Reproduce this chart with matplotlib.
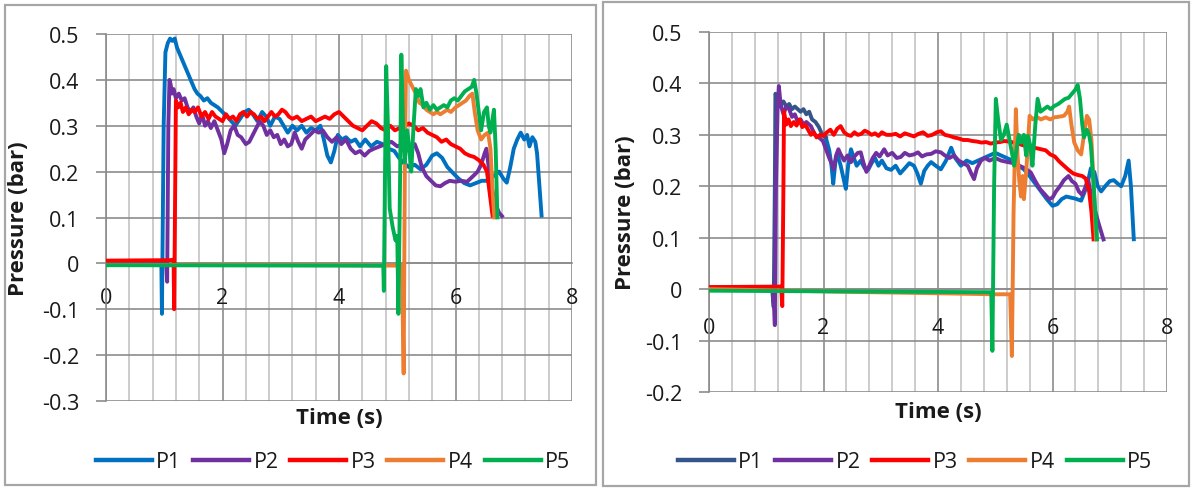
import numpy as np
import matplotlib
matplotlib.use("Agg")
import matplotlib.pyplot as plt
from matplotlib.lines import Line2D
from matplotlib.patches import Rectangle
from matplotlib.ticker import MultipleLocator

plt.rcParams['font.family'] = ['Open Sans', 'DejaVu Sans']

series_names = ["P1", "P2", "P3", "P4", "P5"]
series_colors = ["#0070C0", "#7030A0", "#FF0000", "#ED7D31", "#00B050"]
p1_dark_color = "#34558A"

# ---------------- left test ----------------
a_p1_t = [0, 0.9, 0.95, 0.96, 0.99, 1.02, 1.06, 1.1, 1.14, 1.18, 1.22, 1.27, 1.32, 1.37, 1.42, 1.47, 1.52,
          1.57, 1.62, 1.68, 1.74, 1.8, 1.86, 1.92, 2.0, 2.08, 2.15, 2.22, 2.3, 2.38, 2.45, 2.52, 2.6, 2.68,
          2.75, 2.82, 2.9, 2.98, 3.05, 3.12, 3.2, 3.28, 3.36, 3.44, 3.52, 3.6, 3.68, 3.74, 3.8, 3.86, 3.92,
          3.98, 4.05, 4.12, 4.2, 4.28, 4.36, 4.45, 4.55, 4.65, 4.75, 4.85, 4.95, 5.03, 5.1, 5.2, 5.3, 5.4,
          5.5, 5.6, 5.68, 5.77, 5.86, 5.95, 6.05, 6.15, 6.25, 6.35, 6.45, 6.55, 6.65, 6.75, 6.82, 6.88,
          6.94, 7.0, 7.06, 7.12, 7.18, 7.23, 7.27, 7.32, 7.37, 7.4, 7.48]
a_p1_v = [0.003, 0.004, 0.004, -0.11, 0.30, 0.46, 0.48, 0.49, 0.485, 0.49, 0.47, 0.455, 0.44, 0.425, 0.41,
          0.395, 0.38, 0.37, 0.365, 0.355, 0.36, 0.35, 0.345, 0.34, 0.33, 0.32, 0.31, 0.30, 0.315, 0.33,
          0.335, 0.325, 0.31, 0.33, 0.32, 0.30, 0.32, 0.315, 0.30, 0.285, 0.30, 0.29, 0.30, 0.285, 0.295,
          0.29, 0.30, 0.27, 0.235, 0.22, 0.245, 0.28, 0.27, 0.275, 0.265, 0.27, 0.255, 0.27, 0.255, 0.265,
          0.26, 0.25, 0.245, 0.23, 0.22, 0.21, 0.215, 0.205, 0.215, 0.235, 0.24, 0.23, 0.21, 0.198, 0.185,
          0.175, 0.17, 0.175, 0.18, 0.18, 0.19, 0.20, 0.185, 0.176, 0.21, 0.25, 0.27, 0.285, 0.27, 0.28,
          0.255, 0.275, 0.265, 0.24, 0.10]

a_p2_t = [0, 0.95, 1.03, 1.05, 1.07, 1.09, 1.11, 1.13, 1.16, 1.2, 1.25, 1.3, 1.35, 1.4, 1.45, 1.5, 1.55,
          1.6, 1.65, 1.7, 1.75, 1.8, 1.86, 1.92, 1.98, 2.03, 2.08, 2.14, 2.2, 2.26, 2.32, 2.4, 2.46, 2.52,
          2.58, 2.64, 2.7, 2.76, 2.82, 2.88, 2.94, 3.0, 3.06, 3.12, 3.18, 3.24, 3.3, 3.36, 3.42, 3.5, 3.58,
          3.65, 3.72, 3.8, 3.88, 3.96, 4.04, 4.12, 4.2, 4.28, 4.36, 4.44, 4.52, 4.6, 4.7, 4.8, 4.9, 5.0,
          5.1, 5.2, 5.3, 5.36, 5.42, 5.5, 5.58, 5.66, 5.74, 5.82, 5.9, 6.0, 6.1, 6.2, 6.3, 6.38, 6.44, 6.5,
          6.53, 6.6, 6.68, 6.75, 6.82]
a_p2_v = [0.003, 0.004, 0.005, -0.04, 0.30, 0.40, 0.39, 0.37, 0.38, 0.36, 0.37, 0.355, 0.36, 0.34, 0.33,
          0.34, 0.32, 0.305, 0.325, 0.30, 0.31, 0.295, 0.31, 0.29, 0.27, 0.24, 0.26, 0.29, 0.30, 0.28,
          0.275, 0.26, 0.265, 0.28, 0.295, 0.31, 0.30, 0.28, 0.29, 0.275, 0.28, 0.26, 0.27, 0.255, 0.26,
          0.285, 0.265, 0.25, 0.27, 0.28, 0.29, 0.285, 0.29, 0.275, 0.265, 0.275, 0.26, 0.27, 0.25, 0.24,
          0.245, 0.235, 0.245, 0.25, 0.255, 0.26, 0.265, 0.255, 0.26, 0.255, 0.26, 0.24, 0.21, 0.19, 0.18,
          0.17, 0.168, 0.175, 0.18, 0.178, 0.18, 0.178, 0.19, 0.20, 0.215, 0.24, 0.25, 0.18, 0.13, 0.11,
          0.10]

a_p3_t = [0, 1.1, 1.16, 1.17, 1.19, 1.2, 1.24, 1.28, 1.32, 1.37, 1.42, 1.47, 1.52, 1.58, 1.64, 1.7, 1.76,
          1.82, 1.88, 1.94, 2.0, 2.06, 2.12, 2.18, 2.24, 2.3, 2.36, 2.42, 2.48, 2.54, 2.6, 2.66, 2.72, 2.78,
          2.84, 2.9, 2.96, 3.02, 3.08, 3.14, 3.2, 3.28, 3.36, 3.44, 3.52, 3.6, 3.68, 3.76, 3.84, 3.92, 4.0,
          4.08, 4.16, 4.24, 4.32, 4.4, 4.48, 4.56, 4.64, 4.72, 4.8, 4.88, 4.96, 5.04, 5.12, 5.2, 5.28, 5.36,
          5.44, 5.52, 5.6, 5.68, 5.76, 5.84, 5.92, 6.0, 6.08, 6.16, 6.24, 6.32, 6.4, 6.48, 6.54, 6.6, 6.64]
a_p3_v = [0.006, 0.007, 0.008, -0.10, 0.20, 0.355, 0.34, 0.35, 0.33, 0.34, 0.325, 0.335, 0.33, 0.34, 0.32,
          0.33, 0.315, 0.33, 0.32, 0.315, 0.31, 0.325, 0.315, 0.32, 0.31, 0.325, 0.33, 0.32, 0.33, 0.325,
          0.315, 0.32, 0.31, 0.32, 0.33, 0.32, 0.325, 0.335, 0.33, 0.32, 0.315, 0.32, 0.31, 0.315, 0.32,
          0.31, 0.315, 0.32, 0.315, 0.325, 0.33, 0.32, 0.31, 0.30, 0.295, 0.29, 0.30, 0.31, 0.305, 0.295,
          0.29, 0.30, 0.29, 0.295, 0.30, 0.305, 0.30, 0.29, 0.295, 0.285, 0.28, 0.275, 0.265, 0.27, 0.26,
          0.255, 0.25, 0.24, 0.235, 0.232, 0.225, 0.215, 0.20, 0.14, 0.10]

a_p4_t = [0, 4.0, 5.08, 5.11, 5.13, 5.15, 5.2, 5.26, 5.32, 5.38, 5.44, 5.5, 5.56, 5.62, 5.68, 5.74, 5.8,
          5.86, 5.92, 6.0, 6.06, 6.12, 6.18, 6.24, 6.29, 6.33, 6.38, 6.44, 6.5, 6.56, 6.6, 6.64, 6.67]
a_p4_v = [-0.003, -0.004, -0.005, -0.24, 0.20, 0.42, 0.40, 0.385, 0.37, 0.35, 0.345, 0.335, 0.33, 0.325,
          0.33, 0.325, 0.33, 0.335, 0.33, 0.34, 0.345, 0.35, 0.355, 0.365, 0.37, 0.33, 0.29, 0.27, 0.28,
          0.285, 0.25, 0.15, 0.096]

a_p5_t = [0, 4.76, 4.77, 4.79, 4.81, 4.84, 4.87, 4.92, 4.97, 5.0, 5.02, 5.05, 5.07, 5.1, 5.13, 5.17, 5.2,
          5.24, 5.28, 5.32, 5.36, 5.4, 5.45, 5.5, 5.56, 5.62, 5.68, 5.74, 5.8, 5.86, 5.92, 5.98, 6.04, 6.1,
          6.16, 6.22, 6.28, 6.32, 6.36, 6.4, 6.44, 6.49, 6.54, 6.57, 6.6, 6.63, 6.66, 6.69, 6.72]
a_p5_v = [-0.004, -0.005, -0.06, 0.20, 0.43, 0.30, 0.12, 0.08, 0.05, 0.06, -0.11, 0.20, 0.455, 0.30, 0.22,
          0.29, 0.26, 0.20, 0.30, 0.38, 0.365, 0.38, 0.34, 0.35, 0.335, 0.345, 0.335, 0.34, 0.345, 0.34,
          0.355, 0.36, 0.355, 0.365, 0.375, 0.38, 0.385, 0.40, 0.37, 0.33, 0.29, 0.33, 0.34, 0.30, 0.285,
          0.31, 0.335, 0.25, 0.096]

# ---------------- right test ----------------
b_p1_t = [0, 1.1, 1.13, 1.15, 1.16, 1.2, 1.25, 1.3, 1.35, 1.4, 1.45, 1.5, 1.55, 1.6, 1.65, 1.7, 1.75, 1.8,
          1.86, 1.92, 1.98, 2.04, 2.1, 2.14, 2.17, 2.21, 2.25, 2.3, 2.35, 2.39, 2.43, 2.48, 2.53, 2.58,
          2.65, 2.72, 2.78, 2.84, 2.9, 2.96, 3.02, 3.1, 3.18, 3.26, 3.34, 3.42, 3.5, 3.58, 3.64, 3.7, 3.76,
          3.82, 3.88, 3.96, 4.05, 4.14, 4.23, 4.3, 4.4, 4.5, 4.6, 4.7, 4.8, 4.9, 5.0, 5.1, 5.2, 5.3, 5.4,
          5.5, 5.6, 5.7, 5.8, 5.9, 6.0, 6.08, 6.16, 6.24, 6.32, 6.4, 6.5, 6.6, 6.67, 6.73, 6.79, 6.85, 6.92,
          7.0, 7.07, 7.14, 7.2, 7.27, 7.33, 7.37, 7.42]
b_p1_v = [0.003, 0.004, -0.035, 0.20, 0.38, 0.37, 0.36, 0.365, 0.355, 0.36, 0.35, 0.355, 0.35, 0.345, 0.35,
          0.34, 0.345, 0.33, 0.325, 0.315, 0.30, 0.295, 0.27, 0.24, 0.205, 0.25, 0.26, 0.24, 0.215, 0.195,
          0.24, 0.272, 0.255, 0.24, 0.25, 0.235, 0.232, 0.245, 0.255, 0.24, 0.25, 0.235, 0.232, 0.24, 0.225,
          0.235, 0.245, 0.24, 0.225, 0.205, 0.23, 0.24, 0.247, 0.24, 0.233, 0.25, 0.275, 0.255, 0.24, 0.25,
          0.245, 0.25, 0.255, 0.26, 0.265, 0.26, 0.255, 0.25, 0.24, 0.233, 0.22, 0.205, 0.19, 0.175, 0.162,
          0.165, 0.175, 0.18, 0.178, 0.176, 0.172, 0.20, 0.235, 0.228, 0.20, 0.19, 0.20, 0.21, 0.212,
          0.205, 0.20, 0.22, 0.25, 0.20, 0.097]

b_p2_t = [0, 1.12, 1.15, 1.17, 1.2, 1.22, 1.25, 1.3, 1.35, 1.4, 1.45, 1.5, 1.55, 1.6, 1.65, 1.7, 1.78,
          1.85, 1.92, 1.99, 2.05, 2.1, 2.14, 2.18, 2.22, 2.26, 2.3, 2.36, 2.42, 2.48, 2.54, 2.6, 2.65, 2.7,
          2.75, 2.8, 2.86, 2.92, 2.98, 3.06, 3.12, 3.2, 3.28, 3.35, 3.42, 3.5, 3.58, 3.65, 3.72, 3.8, 3.88,
          3.96, 4.05, 4.12, 4.2, 4.28, 4.36, 4.44, 4.52, 4.58, 4.63, 4.68, 4.75, 4.82, 4.9, 5.0, 5.1, 5.22,
          5.32, 5.42, 5.52, 5.62, 5.7, 5.78, 5.86, 5.94, 6.0, 6.06, 6.13, 6.2, 6.28, 6.34, 6.4, 6.46, 6.52,
          6.58, 6.62, 6.7, 6.8, 6.9]
b_p2_v = [0.003, 0.004, -0.07, 0.20, 0.36, 0.395, 0.36, 0.34, 0.355, 0.35, 0.335, 0.34, 0.325, 0.33, 0.32,
          0.325, 0.317, 0.30, 0.295, 0.288, 0.27, 0.255, 0.245, 0.233, 0.26, 0.272, 0.262, 0.25, 0.26,
          0.247, 0.258, 0.265, 0.266, 0.245, 0.228, 0.24, 0.255, 0.265, 0.258, 0.272, 0.26, 0.265, 0.255,
          0.257, 0.265, 0.26, 0.262, 0.266, 0.258, 0.262, 0.263, 0.268, 0.266, 0.26, 0.255, 0.26, 0.25,
          0.245, 0.24, 0.225, 0.214, 0.235, 0.25, 0.255, 0.25, 0.255, 0.25, 0.247, 0.245, 0.24, 0.235,
          0.227, 0.21, 0.195, 0.185, 0.175, 0.178, 0.19, 0.20, 0.212, 0.22, 0.21, 0.205, 0.19, 0.183,
          0.20, 0.214, 0.17, 0.13, 0.093]

b_p3_t = [0, 1.26, 1.28, 1.3, 1.31, 1.35, 1.39, 1.43, 1.48, 1.53, 1.58, 1.63, 1.68, 1.73, 1.78, 1.83,
          1.88, 1.94, 2.0, 2.06, 2.12, 2.18, 2.24, 2.3, 2.36, 2.42, 2.48, 2.54, 2.6, 2.66, 2.72, 2.78, 2.84,
          2.9, 2.96, 3.02, 3.1, 3.18, 3.26, 3.34, 3.42, 3.5, 3.58, 3.66, 3.74, 3.82, 3.9, 3.98, 4.05, 4.12,
          4.2, 4.28, 4.36, 4.44, 4.52, 4.6, 4.68, 4.76, 4.84, 4.92, 5.0, 5.08, 5.16, 5.24, 5.32, 5.4, 5.48,
          5.56, 5.64, 5.72, 5.8, 5.88, 5.96, 6.04, 6.12, 6.2, 6.28, 6.36, 6.44, 6.52, 6.58, 6.64, 6.68,
          6.72]
b_p3_v = [0.004, 0.005, -0.033, 0.20, 0.345, 0.32, 0.33, 0.317, 0.325, 0.318, 0.33, 0.315, 0.32, 0.31,
          0.30, 0.305, 0.295, 0.30, 0.298, 0.305, 0.31, 0.30, 0.312, 0.317, 0.305, 0.30, 0.298, 0.305,
          0.30, 0.302, 0.308, 0.305, 0.30, 0.303, 0.298, 0.305, 0.30, 0.30, 0.302, 0.297, 0.303, 0.30,
          0.297, 0.302, 0.305, 0.298, 0.30, 0.305, 0.307, 0.30, 0.298, 0.295, 0.293, 0.29, 0.29, 0.288,
          0.287, 0.285, 0.286, 0.283, 0.285, 0.286, 0.288, 0.287, 0.285, 0.283, 0.28, 0.278, 0.277, 0.274,
          0.272, 0.27, 0.262, 0.258, 0.248, 0.24, 0.232, 0.225, 0.222, 0.22, 0.215, 0.19, 0.15, 0.093]

b_p4_t = [0, 2.3, 4.0, 5.0, 5.26, 5.29, 5.32, 5.36, 5.39, 5.42, 5.45, 5.48, 5.5, 5.54, 5.58, 5.6, 5.66,
          5.72, 5.8, 5.88, 5.96, 6.03, 6.1, 6.2, 6.26, 6.29, 6.33, 6.38, 6.44, 6.5, 6.55, 6.6, 6.64, 6.68,
          6.72, 6.76]
b_p4_v = [0.0, -0.005, -0.008, -0.01, -0.01, -0.13, 0.15, 0.35, 0.26, 0.21, 0.18, 0.22, 0.175, 0.227, 0.30,
          0.337, 0.33, 0.335, 0.33, 0.334, 0.33, 0.334, 0.335, 0.337, 0.345, 0.355, 0.32, 0.285, 0.27,
          0.262, 0.30, 0.337, 0.33, 0.29, 0.20, 0.093]

b_p5_t = [0, 4.93, 4.95, 4.98, 5.01, 5.05, 5.1, 5.15, 5.2, 5.25, 5.3, 5.33, 5.37, 5.41, 5.45, 5.5, 5.54,
          5.57, 5.61, 5.65, 5.7, 5.74, 5.79, 5.85, 5.91, 5.97, 6.03, 6.1, 6.16, 6.22, 6.28, 6.34, 6.4, 6.44,
          6.48, 6.52, 6.55, 6.6, 6.64, 6.67, 6.72, 6.78]
b_p5_v = [-0.003, -0.006, -0.12, 0.20, 0.37, 0.33, 0.29, 0.30, 0.32, 0.29, 0.26, 0.24, 0.27, 0.30, 0.285,
          0.30, 0.26, 0.298, 0.28, 0.24, 0.32, 0.37, 0.345, 0.35, 0.355, 0.35, 0.356, 0.36, 0.365, 0.37,
          0.372, 0.38, 0.388, 0.397, 0.37, 0.32, 0.295, 0.31, 0.30, 0.28, 0.20, 0.093]

y_range_left = (-0.3, 0.5)
y_range_right = (-0.2, 0.5)
x_range = (0, 8)

W, H = 1192, 489
fig = plt.figure(figsize=(W / 100, H / 100), dpi=100)


def px_box(x0, y0, x1, y1):
    return [x0 / W, 1 - y1 / H, (x1 - x0) / W, (y1 - y0) / H]


# outer chart frames
for (x0, y0, x1, y1) in [(5, 6, 596, 486), (603, 3, 1189, 487)]:
    fig.patches.append(Rectangle((x0 / W, 1 - y1 / H), (x1 - x0) / W, (y1 - y0) / H,
                                 transform=fig.transFigure, fill=False,
                                 edgecolor="#A6A6A6", linewidth=1.6))

text_color = "#1A1A1A"
grid_dark = "#8C8C8C"
grid_light = "#C4C4C4"
lw = 2.8
tick_fs = 15.5
label_fs = 16


def style_axes(ax, ylim, xlabel_pad_px, ylabel_x):
    ax.set_xlim(*x_range)
    ax.set_ylim(*ylim)
    ax.xaxis.set_major_locator(MultipleLocator(2))
    ax.xaxis.set_minor_locator(MultipleLocator(0.4))
    ax.yaxis.set_major_locator(MultipleLocator(0.1))
    ax.grid(which="major", axis="x", color=grid_dark, linewidth=1.2, zorder=0)
    ax.grid(which="minor", axis="x", color=grid_light, linewidth=1.2, zorder=0)
    ax.grid(which="major", axis="y", color=grid_dark, linewidth=1.2, zorder=0)
    ax.set_axisbelow(True)
    for s in ["top", "right"]:
        ax.spines[s].set_visible(False)
    ax.spines["left"].set_color(grid_dark)
    ax.spines["left"].set_linewidth(1.2)
    ax.spines["bottom"].set_position(("data", 0))
    ax.spines["bottom"].set_color(grid_dark)
    ax.spines["bottom"].set_linewidth(1.2)
    ax.tick_params(axis="y", which="major", direction="out", length=7, width=1.2,
                   color=grid_dark, pad=12, labelsize=tick_fs, labelcolor=text_color)
    ax.tick_params(axis="x", which="both", length=0, pad=xlabel_pad_px * 0.72,
                   labelsize=tick_fs, labelcolor=text_color)
    ax.set_yticklabels([f"{v:g}" for v in ax.get_yticks()])
    ax.set_xticks([0, 2, 4, 6, 8])
    ax.set_xticklabels(["0", "2", "4", "6", "8"])
    ax.set_ylabel("Pressure (bar)", fontsize=label_fs, fontweight="bold", color=text_color)
    ax.yaxis.set_label_coords(ylabel_x, 0.5)
    ax.patch.set_alpha(0)


def draw(ax, ts, vs, colors):
    for t, v, c in zip(ts, vs, colors):
        ax.plot(t, v, color=c, linewidth=lw, solid_joinstyle="round", solid_capstyle="butt", zorder=3)


# left chart
axL = fig.add_axes(px_box(106, 35, 572, 402))
style_axes(axL, y_range_left, 24, -0.165)
draw(axL, [a_p1_t, a_p2_t, a_p3_t, a_p4_t, a_p5_t],
     [a_p1_v, a_p2_v, a_p3_v, a_p4_v, a_p5_v], series_colors)
axL.text(0.5, -17 / 367, "Time (s)", transform=axL.transAxes, ha="center", va="center",
         fontsize=label_fs, fontweight="bold", color=text_color)

# right chart: the first part of P1 is drawn in the darker shade
axR = fig.add_axes(px_box(709, 33, 1167, 393))
style_axes(axR, y_range_right, 28, -0.16)
split = next(i for i, t in enumerate(b_p1_t) if t >= 2.05)
axR.plot(b_p1_t[split - 1:], b_p1_v[split - 1:], color=series_colors[0], linewidth=lw,
         solid_joinstyle="round", zorder=3)
axR.plot(b_p1_t[:split], b_p1_v[:split], color=p1_dark_color, linewidth=lw,
         solid_joinstyle="round", zorder=3)
draw(axR, [b_p2_t, b_p3_t, b_p4_t, b_p5_t],
     [b_p2_v, b_p3_v, b_p4_v, b_p5_v], series_colors[1:])
axR.text(0.5, -20 / 360, "Time (s)", transform=axR.transAxes, ha="center", va="center",
         fontsize=label_fs, fontweight="bold", color=text_color)


# legends
def legend(cx, cy, colors):
    handles = [Line2D([], [], color=c, linewidth=3.2) for c in colors]
    fig.legend(handles, series_names, loc="center", bbox_to_anchor=(cx / W, 1 - cy / H),
               ncol=5, frameon=False, fontsize=tick_fs, handlelength=2.6, handletextpad=0.2,
               columnspacing=0.55, labelcolor=text_color)


legend(333, 463, series_colors)
legend(915, 463, [p1_dark_color] + series_colors[1:])

fig.savefig("out.png", dpi=100)
